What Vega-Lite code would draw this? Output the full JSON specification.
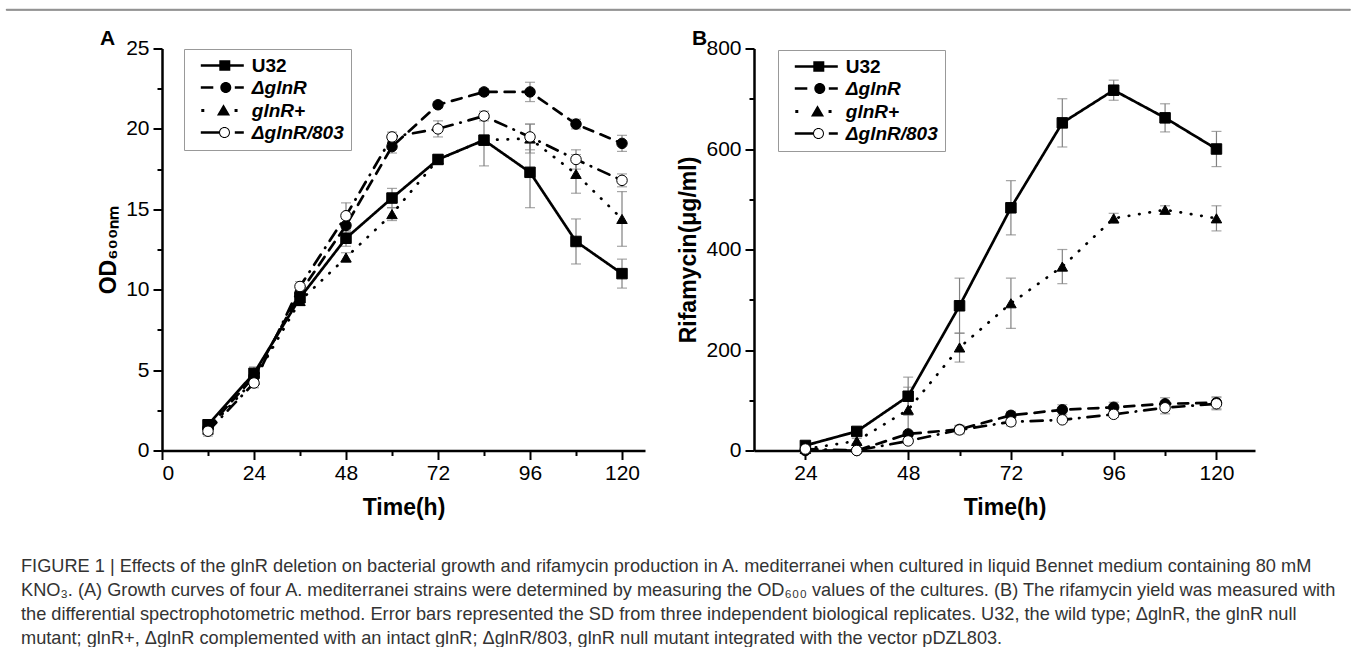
{
  "$schema": "https://vega.github.io/schema/vega-lite/v6.json",
  "background": "white",
  "padding": {"left": 5, "top": 6, "right": 5, "bottom": 0},
  "datasets": {
    "A": [
      {"strain": "U32", "t": 12, "v": 1.6, "sd": 0.2},
      {"strain": "U32", "t": 24, "v": 4.8, "sd": 0.4},
      {"strain": "U32", "t": 36, "v": 9.5, "sd": 0.3},
      {"strain": "U32", "t": 48, "v": 13.2, "sd": 0.5},
      {"strain": "U32", "t": 60, "v": 15.7, "sd": 0.6},
      {"strain": "U32", "t": 72, "v": 18.1, "sd": 0.3},
      {"strain": "U32", "t": 84, "v": 19.3, "sd": 1.6},
      {"strain": "U32", "t": 96, "v": 17.3, "sd": 2.2},
      {"strain": "U32", "t": 108, "v": 13.0, "sd": 1.4},
      {"strain": "U32", "t": 120, "v": 11.0, "sd": 0.9},
      {"strain": "ΔglnR", "t": 12, "v": 1.4, "sd": 0.2},
      {"strain": "ΔglnR", "t": 24, "v": 4.6, "sd": 0.3},
      {"strain": "ΔglnR", "t": 36, "v": 9.8, "sd": 0.3},
      {"strain": "ΔglnR", "t": 48, "v": 14.0, "sd": 0.4},
      {"strain": "ΔglnR", "t": 60, "v": 18.9, "sd": 0.4},
      {"strain": "ΔglnR", "t": 72, "v": 21.5, "sd": 0.2},
      {"strain": "ΔglnR", "t": 84, "v": 22.3, "sd": 0.2},
      {"strain": "ΔglnR", "t": 96, "v": 22.3, "sd": 0.6},
      {"strain": "ΔglnR", "t": 108, "v": 20.3, "sd": 0.3},
      {"strain": "ΔglnR", "t": 120, "v": 19.1, "sd": 0.5},
      {"strain": "glnR+", "t": 12, "v": 1.3, "sd": 0.2},
      {"strain": "glnR+", "t": 24, "v": 4.4, "sd": 0.2},
      {"strain": "glnR+", "t": 36, "v": 9.3, "sd": 0.3},
      {"strain": "glnR+", "t": 48, "v": 12.0, "sd": 0.3},
      {"strain": "glnR+", "t": 60, "v": 14.7, "sd": 0.4},
      {"strain": "glnR+", "t": 72, "v": 18.1, "sd": 0.3},
      {"strain": "glnR+", "t": 84, "v": 19.3, "sd": 0.3},
      {"strain": "glnR+", "t": 96, "v": 19.4, "sd": 0.9},
      {"strain": "glnR+", "t": 108, "v": 17.2, "sd": 1.2},
      {"strain": "glnR+", "t": 120, "v": 14.4, "sd": 1.7},
      {"strain": "ΔglnR/803", "t": 12, "v": 1.2, "sd": 0.3},
      {"strain": "ΔglnR/803", "t": 24, "v": 4.2, "sd": 0.3},
      {"strain": "ΔglnR/803", "t": 36, "v": 10.2, "sd": 0.3},
      {"strain": "ΔglnR/803", "t": 48, "v": 14.6, "sd": 0.8},
      {"strain": "ΔglnR/803", "t": 60, "v": 19.5, "sd": 0.3},
      {"strain": "ΔglnR/803", "t": 72, "v": 20.0, "sd": 0.5},
      {"strain": "ΔglnR/803", "t": 84, "v": 20.8, "sd": 0.3},
      {"strain": "ΔglnR/803", "t": 96, "v": 19.5, "sd": 0.8},
      {"strain": "ΔglnR/803", "t": 108, "v": 18.1, "sd": 0.6},
      {"strain": "ΔglnR/803", "t": 120, "v": 16.8, "sd": 0.4}
    ],
    "B": [
      {"strain": "U32", "t": 24, "v": 10, "sd": 3},
      {"strain": "U32", "t": 36, "v": 38, "sd": 4},
      {"strain": "U32", "t": 48, "v": 108, "sd": 38},
      {"strain": "U32", "t": 60, "v": 288, "sd": 55},
      {"strain": "U32", "t": 72, "v": 483, "sd": 54},
      {"strain": "U32", "t": 84, "v": 652, "sd": 48},
      {"strain": "U32", "t": 96, "v": 717, "sd": 20},
      {"strain": "U32", "t": 108, "v": 662, "sd": 28},
      {"strain": "U32", "t": 120, "v": 600, "sd": 35},
      {"strain": "ΔglnR", "t": 24, "v": 0, "sd": 0},
      {"strain": "ΔglnR", "t": 36, "v": 0, "sd": 0},
      {"strain": "ΔglnR", "t": 48, "v": 33, "sd": 5},
      {"strain": "ΔglnR", "t": 60, "v": 42, "sd": 8},
      {"strain": "ΔglnR", "t": 72, "v": 70, "sd": 8},
      {"strain": "ΔglnR", "t": 84, "v": 81, "sd": 10},
      {"strain": "ΔglnR", "t": 96, "v": 86, "sd": 10},
      {"strain": "ΔglnR", "t": 108, "v": 93, "sd": 12},
      {"strain": "ΔglnR", "t": 120, "v": 95, "sd": 12},
      {"strain": "glnR+", "t": 24, "v": 3, "sd": 2},
      {"strain": "glnR+", "t": 36, "v": 19, "sd": 5},
      {"strain": "glnR+", "t": 48, "v": 81, "sd": 45},
      {"strain": "glnR+", "t": 60, "v": 205, "sd": 29},
      {"strain": "glnR+", "t": 72, "v": 293, "sd": 50},
      {"strain": "glnR+", "t": 84, "v": 366, "sd": 34},
      {"strain": "glnR+", "t": 96, "v": 462, "sd": 10},
      {"strain": "glnR+", "t": 108, "v": 479, "sd": 8},
      {"strain": "glnR+", "t": 120, "v": 462, "sd": 25},
      {"strain": "ΔglnR/803", "t": 24, "v": 3, "sd": 2},
      {"strain": "ΔglnR/803", "t": 36, "v": 0, "sd": 0},
      {"strain": "ΔglnR/803", "t": 48, "v": 19, "sd": 5},
      {"strain": "ΔglnR/803", "t": 60, "v": 41, "sd": 8},
      {"strain": "ΔglnR/803", "t": 72, "v": 57, "sd": 8},
      {"strain": "ΔglnR/803", "t": 84, "v": 61, "sd": 5},
      {"strain": "ΔglnR/803", "t": 96, "v": 72, "sd": 6},
      {"strain": "ΔglnR/803", "t": 108, "v": 85, "sd": 12},
      {"strain": "ΔglnR/803", "t": 120, "v": 93, "sd": 12}
    ]
  },
  "bounds": "flush",
  "spacing": 38.5,
  "title": {
    "text": [
      "FIGURE 1 | Effects of the glnR deletion on bacterial growth and rifamycin production in A. mediterranei when cultured in liquid Bennet medium containing 80 mM",
      "KNO₃. (A) Growth curves of four A. mediterranei strains were determined by measuring the OD₆₀₀ values of the cultures. (B) The rifamycin yield was measured with",
      "the differential spectrophotometric method. Error bars represented the SD from three independent biological replicates. U32, the wild type; ΔglnR, the glnR null",
      "mutant; glnR+, ΔglnR complemented with an intact glnR; ΔglnR/803, glnR null mutant integrated with the vector pDZL803."
    ],
    "orient": "bottom",
    "anchor": "start",
    "frame": "group",
    "dx": 15,
    "offset": 38,
    "font": "Liberation Sans",
    "fontSize": 18.2,
    "fontWeight": "normal",
    "color": "#333333",
    "lineHeight": 24
  },
  "vconcat": [
    {
      "width": 1344,
      "height": 1,
      "view": {"stroke": "#666666", "strokeWidth": 0.8},
      "data": {"values": [{"k": 1}]},
      "mark": {"type": "point", "opacity": 0},
      "encoding": {}
    },
    {
      "bounds": "flush",
      "spacing": 109,
      "hconcat": [
        {
          "width": 47,
          "height": 402,
          "data": {"values": [{"k": 1}]},
          "mark": {"type": "point", "opacity": 0},
          "encoding": {}
        },
        {
          "width": 483,
          "height": 402,
          "title": {"text": "A", "anchor": "start", "frame": "group", "dx": -62, "offset": -28.5, "baseline": "alphabetic", "fontSize": 21, "fontWeight": "bold", "font": "Liberation Sans", "color": "black"},
          "data": {"name": "A"},
          "layer": [
            {
              "mark": {"type": "errorbar", "color": "#808080", "thickness": 1.2, "size": 10, "ticks": true},
              "encoding": {
                "x": {"field": "t", "type": "quantitative", "axis": null},
                "y": {"field": "v", "type": "quantitative", "axis": null},
                "yError": {"field": "sd"}
              }
            },
            {
              "mark": {"type": "line", "color": "black", "strokeWidth": 2.7, "strokeCap": "round"},
              "encoding": {
                "x": {"field": "t", "type": "quantitative", "scale": {"domain": [0, 126], "nice": false, "zero": false},
                      "axis": {"orient": "bottom", "values": [0, 24, 48, 72, 96, 120], "title": "Time(h)", "titlePadding": 13}},
                "y": {"field": "v", "type": "quantitative", "scale": {"domain": [0, 25], "nice": false},
                      "axis": {"orient": "left", "values": [0, 5, 10, 15, 20, 25], "title": "OD₆₀₀ₙₘ", "titlePadding": 5, "labelPadding": 4}},
                "strokeDash": {"field": "strain", "type": "nominal", "legend": null,
                      "scale": {"domain": ["U32", "ΔglnR", "glnR+", "ΔglnR/803"], "range": [[1, 0], [10, 8], [0.5, 10], [12, 8, 0.5, 8]]}}
              }
            },
            {
              "mark": {"type": "point", "filled": true, "size": 110, "stroke": "black", "strokeWidth": 1, "opacity": 1},
              "encoding": {
                "x": {"field": "t", "type": "quantitative",
                      "axis": {"orient": "bottom", "values": [12, 36, 60, 84, 108], "labels": false, "domain": false, "tickSize": 5, "title": null}},
                "y": {"field": "v", "type": "quantitative",
                      "axis": {"orient": "left", "values": [2.5, 7.5, 12.5, 17.5, 22.5], "labels": false, "domain": false, "tickSize": 5, "title": null}},
                "shape": {"field": "strain", "type": "nominal", "legend": null,
                      "scale": {"domain": ["U32", "ΔglnR", "glnR+", "ΔglnR/803"], "range": ["square", "circle", "triangle-up", "circle"]}},
                "fill": {"field": "strain", "type": "nominal", "legend": null,
                      "scale": {"domain": ["U32", "ΔglnR", "glnR+", "ΔglnR/803"], "range": ["black", "black", "black", "white"]}}
              }
            },
            {
              "transform": [{"filter": "false"}],
              "mark": {"type": "point", "filled": true, "size": 100, "strokeWidth": 2.5, "opacity": 1},
              "encoding": {
                "shape": {"field": "strain", "type": "nominal",
                      "scale": {"domain": ["U32", "ΔglnR", "glnR+", "ΔglnR/803"],
                                "range": ["M-4.3,-0.26H4.3V0.26H-4.3Z M-0.6,-1.05H1.6V1.05H-0.6Z",
                                          "M-4.3,-0.26H-1.8V0.26H-4.3Z M2.5,-0.26H4.3V0.26H2.5Z M-0.4,0A1.1,1.1 0 1,1 1.8,0A1.1,1.1 0 1,1 -0.4,0Z",
                                          "M-4.2,-0.3H-3.6V0.3H-4.2Z M2.45,-0.3H3.05V0.3H2.45Z M0.24,-1.25L1.55,1.0L-1.07,1.0Z",
                                          "M-4.3,-0.26H-0.66V0.26H-4.3Z M2.5,-0.26H4.3V0.26H2.5Z M-0.66,0A1.1,1.1 0 1,1 1.54,0A1.1,1.1 0 1,1 -0.66,0Z M-0.46,0A0.9,0.9 0 1,0 1.34,0A0.9,0.9 0 1,0 -0.46,0Z"]},
                      "legend": {"orient": "none", "legendX": 22, "legendY": 0.5, "title": null, "strokeColor": "#999999", "fillColor": "white",
                                 "padding": 7, "symbolOffset": 21.8, "labelOffset": 20, "labelFont": "Liberation Sans", "labelFontSize": 19,
                                 "labelFontWeight": "bold", "labelColor": "black", "symbolStrokeColor": "black", "symbolStrokeWidth": 2.5,
                                 "symbolSize": 100, "rowPadding": 1,
                                 "labelFontStyle": {"expr": "datum.label === 'U32' ? 'normal' : 'italic'"}}},
                "fill": {"field": "strain", "type": "nominal",
                      "scale": {"domain": ["U32", "ΔglnR", "glnR+", "ΔglnR/803"], "range": ["black", "black", "black", "black"]}},
                "stroke": {"field": "strain", "type": "nominal",
                      "scale": {"domain": ["U32", "ΔglnR", "glnR+", "ΔglnR/803"], "range": ["black", "black", "black", "black"]}}
              }
            }
          ],
          "resolve": {"scale": {"shape": "independent", "fill": "independent"}, "legend": {"shape": "independent", "fill": "independent"}, "axis": {"x": "independent", "y": "independent"}}
        },
        {
          "width": 501,
          "height": 402,
          "title": {"text": "B", "anchor": "start", "frame": "group", "dx": -62, "offset": -28.5, "baseline": "alphabetic", "fontSize": 21, "fontWeight": "bold", "font": "Liberation Sans", "color": "black"},
          "data": {"name": "B"},
          "layer": [
            {
              "mark": {"type": "errorbar", "color": "#808080", "thickness": 1.2, "size": 10, "ticks": true},
              "encoding": {
                "x": {"field": "t", "type": "quantitative", "axis": null},
                "y": {"field": "v", "type": "quantitative", "axis": null},
                "yError": {"field": "sd"}
              }
            },
            {
              "mark": {"type": "line", "color": "black", "strokeWidth": 2.7, "strokeCap": "round"},
              "encoding": {
                "x": {"field": "t", "type": "quantitative", "scale": {"domain": [12, 129], "nice": false, "zero": false},
                      "axis": {"orient": "bottom", "values": [24, 48, 72, 96, 120], "title": "Time(h)", "titlePadding": 13}},
                "y": {"field": "v", "type": "quantitative", "scale": {"domain": [0, 800], "nice": false},
                      "axis": {"orient": "left", "values": [0, 200, 400, 600, 800], "title": "Rifamycin(μg/ml)", "titlePadding": 5, "labelPadding": 4}},
                "strokeDash": {"field": "strain", "type": "nominal", "legend": null,
                      "scale": {"domain": ["U32", "ΔglnR", "glnR+", "ΔglnR/803"], "range": [[1, 0], [10, 8], [0.5, 10], [12, 8, 0.5, 8]]}}
              }
            },
            {
              "mark": {"type": "point", "filled": true, "size": 110, "stroke": "black", "strokeWidth": 1, "opacity": 1},
              "encoding": {
                "x": {"field": "t", "type": "quantitative",
                      "axis": {"orient": "bottom", "values": [36, 60, 84, 108], "labels": false, "domain": false, "tickSize": 5, "title": null}},
                "y": {"field": "v", "type": "quantitative",
                      "axis": {"orient": "left", "values": [100, 300, 500, 700], "labels": false, "domain": false, "tickSize": 5, "title": null}},
                "shape": {"field": "strain", "type": "nominal", "legend": null,
                      "scale": {"domain": ["U32", "ΔglnR", "glnR+", "ΔglnR/803"], "range": ["square", "circle", "triangle-up", "circle"]}},
                "fill": {"field": "strain", "type": "nominal", "legend": null,
                      "scale": {"domain": ["U32", "ΔglnR", "glnR+", "ΔglnR/803"], "range": ["black", "black", "black", "white"]}}
              }
            },
            {
              "transform": [{"filter": "false"}],
              "mark": {"type": "point", "filled": true, "size": 100, "strokeWidth": 2.5, "opacity": 1},
              "encoding": {
                "shape": {"field": "strain", "type": "nominal",
                      "scale": {"domain": ["U32", "ΔglnR", "glnR+", "ΔglnR/803"],
                                "range": ["M-4.3,-0.26H4.3V0.26H-4.3Z M-0.6,-1.05H1.6V1.05H-0.6Z",
                                          "M-4.3,-0.26H-1.8V0.26H-4.3Z M2.5,-0.26H4.3V0.26H2.5Z M-0.4,0A1.1,1.1 0 1,1 1.8,0A1.1,1.1 0 1,1 -0.4,0Z",
                                          "M-4.2,-0.3H-3.6V0.3H-4.2Z M2.45,-0.3H3.05V0.3H2.45Z M0.24,-1.25L1.55,1.0L-1.07,1.0Z",
                                          "M-4.3,-0.26H-0.66V0.26H-4.3Z M2.5,-0.26H4.3V0.26H2.5Z M-0.66,0A1.1,1.1 0 1,1 1.54,0A1.1,1.1 0 1,1 -0.66,0Z M-0.46,0A0.9,0.9 0 1,0 1.34,0A0.9,0.9 0 1,0 -0.46,0Z"]},
                      "legend": {"orient": "none", "legendX": 24, "legendY": 1.5, "title": null, "strokeColor": "#999999", "fillColor": "white",
                                 "padding": 7, "symbolOffset": 21.8, "labelOffset": 20, "labelFont": "Liberation Sans", "labelFontSize": 19,
                                 "labelFontWeight": "bold", "labelColor": "black", "symbolStrokeColor": "black", "symbolStrokeWidth": 2.5,
                                 "symbolSize": 100, "rowPadding": 1,
                                 "labelFontStyle": {"expr": "datum.label === 'U32' ? 'normal' : 'italic'"}}},
                "fill": {"field": "strain", "type": "nominal",
                      "scale": {"domain": ["U32", "ΔglnR", "glnR+", "ΔglnR/803"], "range": ["black", "black", "black", "black"]}},
                "stroke": {"field": "strain", "type": "nominal",
                      "scale": {"domain": ["U32", "ΔglnR", "glnR+", "ΔglnR/803"], "range": ["black", "black", "black", "black"]}}
              }
            }
          ],
          "resolve": {"scale": {"shape": "independent", "fill": "independent"}, "legend": {"shape": "independent", "fill": "independent"}, "axis": {"x": "independent", "y": "independent"}}
        }
      ]
    }
  ],
  "config": {
    "view": {"stroke": null},
    "font": "Liberation Sans",
    "axis": {
      "domainColor": "black", "domainWidth": 2.5, "tickColor": "black", "tickWidth": 2, "tickSize": 9,
      "labelColor": "black", "labelFont": "Liberation Sans", "labelFontSize": 21, "labelPadding": 3,
      "titleFont": "Liberation Sans", "titleFontSize": 23, "titleFontWeight": "bold", "titleColor": "black", "grid": false
    }
  }
}
